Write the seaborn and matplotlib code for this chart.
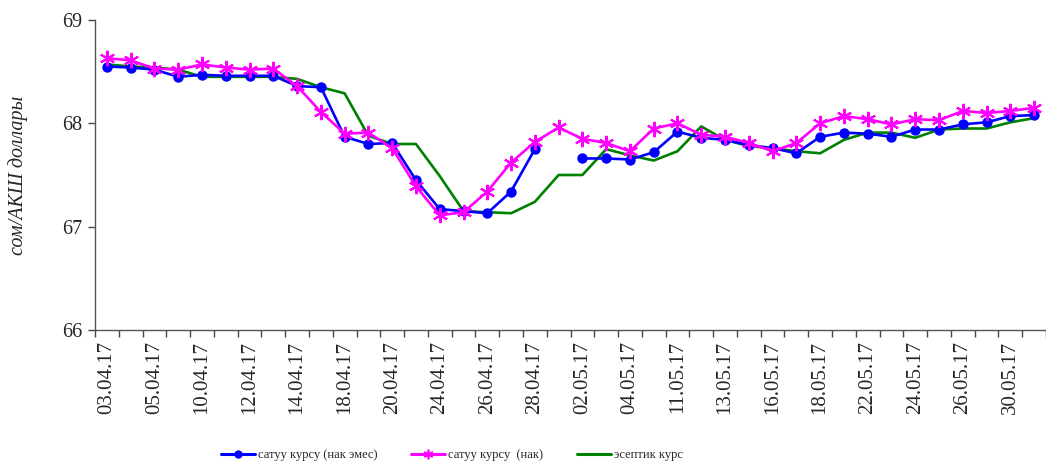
import numpy as np
import pandas as pd
import matplotlib
matplotlib.use("Agg")
import matplotlib.pyplot as plt
from matplotlib.lines import Line2D
import seaborn as sns

dates = ["03.04.17", "04.04.17", "05.04.17", "06.04.17", "10.04.17", "11.04.17",
         "12.04.17", "13.04.17", "14.04.17", "17.04.17", "18.04.17", "19.04.17",
         "20.04.17", "21.04.17", "24.04.17", "25.04.17", "26.04.17", "27.04.17",
         "28.04.17", "01.05.17", "02.05.17", "03.05.17", "04.05.17", "05.05.17",
         "11.05.17", "12.05.17", "13.05.17", "15.05.17", "16.05.17", "17.05.17",
         "18.05.17", "19.05.17", "22.05.17", "23.05.17", "24.05.17", "25.05.17",
         "26.05.17", "29.05.17", "30.05.17", "31.05.17"]

sell_noncash = [68.55, 68.54, 68.52, 68.45, 68.47, 68.46, 68.46, 68.46, 68.36, 68.35,
                67.87, 67.80, 67.81, 67.45, 67.17, 67.15, 67.13, 67.34, 67.75, np.nan,
                67.66, 67.66, 67.65, 67.72, 67.92, 67.86, 67.84, 67.79, 67.76, 67.71,
                67.87, 67.91, 67.90, 67.87, 67.94, 67.94, 67.99, 68.01, 68.07, 68.08]

sell_cash = [68.63, 68.61, 68.53, 68.52, 68.57, 68.54, 68.52, 68.53, 68.36, 68.11,
             67.90, 67.91, 67.76, 67.39, 67.11, 67.14, 67.34, 67.62, 67.82, 67.96,
             67.85, 67.81, 67.73, 67.95, 68.00, 67.89, 67.87, 67.81, 67.73, 67.81,
             68.00, 68.07, 68.04, 67.99, 68.04, 68.03, 68.12, 68.10, 68.12, 68.15]

accounting = [68.57, 68.55, 68.54, 68.52, 68.45, 68.45, 68.45, 68.45, 68.43, 68.35,
              68.29, 67.88, 67.80, 67.80, 67.49, 67.15, 67.14, 67.13, 67.24, 67.50,
              67.50, 67.75, 67.69, 67.64, 67.73, 67.97, 67.84, 67.78, 67.76, 67.73,
              67.71, 67.84, 67.91, 67.91, 67.86, 67.94, 67.95, 67.95, 68.01, 68.05]

series_names = ["сатуу курсу (нак эмес)", "сатуу курсу  (нак)", "эсептик курс"]
y_label = "сом/АКШ доллары"
y_ticks = [66, 67, 68, 69]

sns.set_theme(style="white")
plt.rcParams["font.family"] = ["Liberation Serif", "DejaVu Serif"]

pos = np.arange(len(dates))
df = pd.DataFrame({"pos": pos, "noncash": sell_noncash, "cash": sell_cash, "acc": accounting})
df["seg"] = df["noncash"].isna().cumsum()
df_nc = df.dropna(subset=["noncash"])

fig = plt.figure(figsize=(10.46, 4.66), dpi=100)
ax_w = 1 - 95 / 1046
ax = fig.add_axes([95 / 1046, 1 - 330 / 466, ax_w, (330 - 20) / 466])

c_blue, c_mag, c_green = "#0000FF", "#FF00FF", "#008000"

sns.lineplot(data=df, x="pos", y="acc", ax=ax, color=c_green, lw=1.9, zorder=2)
sns.lineplot(data=df_nc, x="pos", y="noncash", units="seg", estimator=None, ax=ax,
             color=c_blue, lw=1.9, marker="o", markersize=7.5, markeredgewidth=0,
             zorder=3)
sns.lineplot(data=df, x="pos", y="cash", ax=ax, color=c_mag, lw=1.9,
             marker=(6, 2, 0), markersize=11, markeredgewidth=1.5,
             markeredgecolor=c_mag, zorder=4)

ax.set_ylim(66, 69)
ax.set_yticks(y_ticks)
ax.set_yticklabels([str(t) for t in y_ticks], fontsize=14.5)
ax.set_xlim(-0.5, -0.5 + (1046 - 95) / 24)
ax.set_xticks(pos[::2])
ax.set_xticklabels(dates[::2], rotation=90, fontsize=15)
ax.set_xticks(np.arange(-0.5, len(dates), 1.0), minor=True)
ax.tick_params(axis="x", which="major", length=0, pad=8)
ax.tick_params(axis="x", which="minor", length=5, width=1, color="#444444",
               direction="out", bottom=True)
ax.tick_params(axis="y", length=5, width=1, color="#444444", direction="out", left=True, pad=4)
ax.set_xlabel("")
ax.set_ylabel(y_label, fontsize=14.5, style="italic")
ax.yaxis.set_label_coords((28 - 95) / 951, 0.5)

for s in ["top", "right"]:
    ax.spines[s].set_visible(False)
for s in ["left", "bottom"]:
    ax.spines[s].set_color("#555555")
    ax.spines[s].set_linewidth(1.0)
ax.grid(False)

handles = [
    Line2D([], [], color=c_blue, lw=2.2, marker="o", markersize=6, markeredgewidth=0),
    Line2D([], [], color=c_mag, lw=2.2, marker=(6, 2, 0), markersize=7, markeredgewidth=1.2),
    Line2D([], [], color=c_green, lw=2.2),
]
fig.legend(handles, series_names, loc="center", bbox_to_anchor=(452 / 1046, 1 - 455 / 466),
           ncol=3, frameon=False, fontsize=9, handlelength=2.7, handletextpad=0.25,
           columnspacing=2.7)

fig.savefig("out.png", dpi=100)
